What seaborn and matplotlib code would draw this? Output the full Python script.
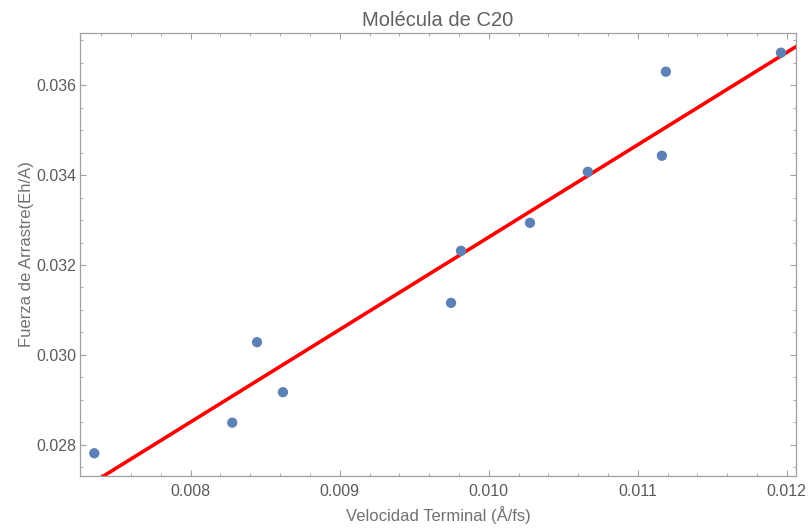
import matplotlib
matplotlib.use("Agg")
import matplotlib.pyplot as plt
import seaborn as sns
import pandas as pd
from matplotlib.ticker import MultipleLocator, FormatStrFormatter

# terminal velocity (A/fs) vs drag force (Eh/A)
velocidad = [0.007353, 0.008279, 0.008445, 0.008619, 0.009747, 0.009814,
             0.010277, 0.010665, 0.011162, 0.011189, 0.011961]
fuerza = [0.027815, 0.028496, 0.030284, 0.029172, 0.031158, 0.032315,
          0.032938, 0.034072, 0.034429, 0.036297, 0.036719]

df = pd.DataFrame({"v": velocidad, "f": fuerza})

sns.set_style("ticks")
plt.rcParams["font.family"] = ["Liberation Sans", "DejaVu Sans"]

gray_frame = "#a0a0a0"
gray_text = "#5a5a5a"

fig = plt.figure(figsize=(8.11, 5.28), dpi=100)
ax = fig.add_axes([0.0986, 0.0985, 0.8829, 0.8395])
ax.set_xlim(0.007257, 0.012062)
ax.set_ylim(0.02731, 0.037163)

sns.regplot(data=df, x="v", y="f", ax=ax, scatter=False, ci=None,
            truncate=False, color="#ff0000", line_kws={"lw": 2.6})
sns.scatterplot(data=df, x="v", y="f", ax=ax, color="#5e81b5", s=55,
                edgecolor="none", zorder=3)

ax.set_xlim(0.007257, 0.012062)
ax.set_ylim(0.02731, 0.037163)
ax.xaxis.set_major_locator(MultipleLocator(0.001))
ax.xaxis.set_minor_locator(MultipleLocator(0.0002))
ax.yaxis.set_major_locator(MultipleLocator(0.002))
ax.yaxis.set_minor_locator(MultipleLocator(0.0005))
ax.xaxis.set_major_formatter(FormatStrFormatter("%.3f"))
ax.yaxis.set_major_formatter(FormatStrFormatter("%.3f"))

for sp in ax.spines.values():
    sp.set_visible(True)
    sp.set_color(gray_frame)
    sp.set_linewidth(0.9)
ax.tick_params(which="both", direction="in", top=True, right=True,
               color=gray_frame, labelcolor=gray_text, labelsize=11.5)
ax.tick_params(which="major", length=4, width=0.8)
ax.tick_params(axis="x", which="major", pad=6)
ax.tick_params(axis="y", which="major", pad=2.5)
ax.tick_params(which="minor", length=2, width=0.6)

ax.set_title("Molécula de C20", fontsize=14.5, color="#606060", pad=5)
ax.set_xlabel("Velocidad Terminal (Å/fs)", fontsize=12, color="#707070", labelpad=5)
ax.set_ylabel("Fuerza de Arrastre(Eh/A)", fontsize=12, color="#707070", labelpad=1.5)

fig.savefig("out.png", dpi=100)
